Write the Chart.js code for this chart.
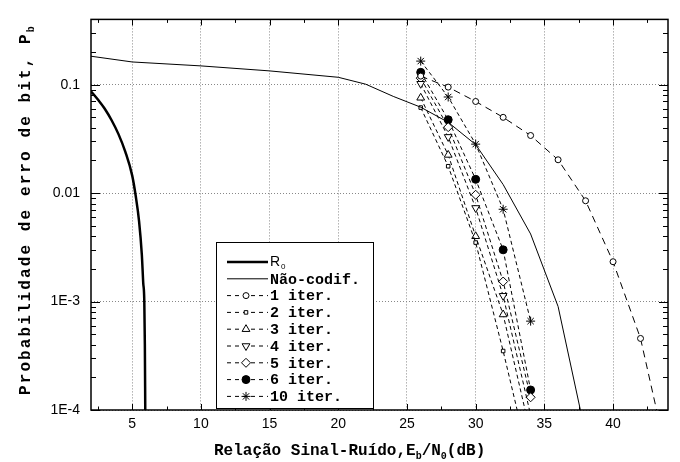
<!DOCTYPE html>
<html>
<head>
<meta charset="utf-8">
<script src="https://cdn.jsdelivr.net/npm/chart.js@4.4.1/dist/chart.umd.min.js"></script>
<style>
body { margin: 0; background: #fff; }
</style>
</head>
<body>
<canvas id="berChart" width="680" height="462"></canvas>
<script>
// axis ticks
const xTicks = [5, 10, 15, 20, 25, 30, 35, 40];
const yTicks = [1e-4, 1e-3, 0.01, 0.1];
const yTickLabels = ['1E-4', '1E-3', '0.01', '0.1'];

// R0 bound
const r0Snr = [2, 2.5, 3, 3.5, 4, 4.5, 5, 5.25, 5.5, 5.7, 5.8, 5.88, 5.92, 5.95];
const r0Pb = [0.087, 0.073, 0.06, 0.047, 0.035, 0.024, 0.0145, 0.0095, 0.0055, 0.0027, 0.0015, 0.001, 0.0004, 0.0001];

// uncoded
const uncSnr = [2, 5, 10, 15, 20, 22, 24, 26, 28, 30, 32, 34, 36, 38];
const uncPb = [0.183, 0.162, 0.149, 0.134, 0.117, 0.101, 0.078, 0.062, 0.045, 0.028, 0.012, 0.0042, 0.0009, 0.00006];

// turbo decoder iterations
const iter1Snr = [26, 28, 30, 32, 34, 36, 38, 40, 42, 44];
const iter1Pb = [0.12, 0.095, 0.07, 0.05, 0.034, 0.0203, 0.0085, 0.00233, 0.000457, 0.000034];
const iterSnr = [26, 28, 30, 32, 34];
const iter2Pb = [0.0615, 0.0177, 0.0035, 0.00035, 0.00003];
const iter3Pb = [0.0757, 0.0225, 0.004, 0.00076, 0.00006];
const iter4Pb = [0.102, 0.033, 0.0073, 0.00113, 0.00009];
const iter5Pb = [0.115, 0.0406, 0.00966, 0.00153, 0.000131];
const iter6Pb = [0.13, 0.0475, 0.0134, 0.003, 0.000153];
const iter10Pb = [0.165, 0.077, 0.0283, 0.0071, 0.00066];

const seriesLabels = ['R0', 'Não-codif.', '1 iter.', '2 iter.', '3 iter.', '4 iter.', '5 iter.', '6 iter.', '10 iter.'];

function points(xs, ys) {
    return xs.map((x, i) => ({ x: x, y: ys[i] }));
}

function iterSeries(label, xs, ys, style, radius, filled, rotation, dash) {
    return {
        label: label,
        data: points(xs, ys),
        borderColor: '#000',
        borderWidth: 1,
        borderDash: dash || [4, 3],
        pointStyle: style,
        pointRadius: radius,
        pointRotation: rotation || 0,
        pointBackgroundColor: filled ? '#000' : '#fff',
        pointBorderColor: '#000',
        pointBorderWidth: 1
    };
}

const datasets = [
    { label: seriesLabels[0], data: points(r0Snr, r0Pb), borderColor: '#000', borderWidth: 2.5, pointRadius: 0, cubicInterpolationMode: 'monotone' },
    { label: seriesLabels[1], data: points(uncSnr, uncPb), borderColor: '#000', borderWidth: 1, pointRadius: 0 },
    iterSeries(seriesLabels[2], iter1Snr, iter1Pb, 'circle', 3, false, 0, [7, 5]),
    iterSeries(seriesLabels[3], iterSnr, iter2Pb, 'rect', 2.5, false),
    iterSeries(seriesLabels[4], iterSnr, iter3Pb, 'triangle', 4.5, false),
    iterSeries(seriesLabels[5], iterSnr, iter4Pb, 'triangle', 4.5, false, 180),
    iterSeries(seriesLabels[6], iterSnr, iter5Pb, 'rectRot', 4.5, false),
    iterSeries(seriesLabels[7], iterSnr, iter6Pb, 'circle', 4, true),
    iterSeries(seriesLabels[8], iterSnr, iter10Pb, 'star', 4.5, false)
];

const monoFont = '"Liberation Mono", "DejaVu Sans Mono", monospace';
const sansFont = '"Liberation Sans", Arial, sans-serif';

// draw text pieces, some as subscripts
function drawRuns(ctx, runs, x, y, size) {
    for (const r of runs) {
        ctx.font = r.sub ? 'bold ' + Math.round(size * 0.6) + 'px ' + monoFont : 'bold ' + size + 'px ' + monoFont;
        ctx.fillText(r.t, x, y + (r.sub ? 4 : 0));
        x += ctx.measureText(r.t).width;
    }
}

const framePlugin = {
    id: 'frame',
    afterDatasetsDraw(chart) {
        const ctx = chart.ctx;
        const a = chart.chartArea;
        const xs = chart.scales.x;
        const ys = chart.scales.y;
        ctx.save();
        ctx.strokeStyle = '#000';
        ctx.fillStyle = '#000';
        ctx.setLineDash([]);

        // inward ticks, x
        ctx.lineWidth = 1;
        for (let v = 2.5; v < 44; v += 2.5) {
            const px = Math.round(xs.getPixelForValue(v)) + 0.5;
            const len = (v % 5 === 0) ? 6 : 3.5;
            ctx.beginPath();
            ctx.moveTo(px, a.bottom); ctx.lineTo(px, a.bottom - len);
            ctx.moveTo(px, a.top); ctx.lineTo(px, a.top + len);
            ctx.stroke();
        }
        // inward ticks, y
        for (let e = -4; e <= -1; e++) {
            for (let m = 1; m <= 9; m++) {
                const v = m * Math.pow(10, e);
                if (v > 0.4 + 1e-9) continue;
                const py = Math.round(ys.getPixelForValue(v)) + 0.5;
                const len = m === 1 ? 9 : 5;
                ctx.beginPath();
                ctx.moveTo(a.left, py); ctx.lineTo(a.left + len, py);
                ctx.moveTo(a.right, py); ctx.lineTo(a.right - len, py);
                ctx.stroke();
            }
        }
        // frame
        ctx.lineWidth = 1.5;
        ctx.strokeRect(a.left, a.top, a.right - a.left, a.bottom - a.top);

        // legend
        const lx = 216, ly = 242, lw = 157, lh = 166;
        ctx.fillStyle = '#fff';
        ctx.fillRect(lx, ly, lw, lh);
        ctx.lineWidth = 1;
        ctx.strokeRect(lx + 0.5, ly + 0.5, lw, lh);
        ctx.fillStyle = '#000';
        ctx.textBaseline = 'middle';
        chart.data.datasets.forEach((ds, i) => {
            const ry = 262 + i * 16.8;
            ctx.save();
            ctx.strokeStyle = '#000';
            ctx.lineWidth = ds.borderWidth;
            ctx.setLineDash(i < 2 ? [] : [4, 4]);
            ctx.beginPath();
            ctx.moveTo(227, ry); ctx.lineTo(268, ry);
            ctx.stroke();
            ctx.setLineDash([]);
            if (ds.pointRadius > 0) {
                ctx.fillStyle = ds.pointBackgroundColor;
                ctx.lineWidth = 1;
                Chart.helpers.drawPoint(ctx, {
                    pointStyle: ds.pointStyle,
                    radius: ds.pointRadius,
                    rotation: ds.pointRotation,
                    borderWidth: 1
                }, 246, ry);
            }
            ctx.restore();
            ctx.fillStyle = '#000';
            if (i === 0) {
                ctx.font = '14px ' + sansFont;
                ctx.fillText('R', 270, ry);
                const w = ctx.measureText('R').width;
                ctx.font = '8px ' + sansFont;
                ctx.fillText('0', 270 + w + 1, ry + 5);
            } else {
                ctx.font = 'bold 15px ' + monoFont;
                ctx.fillText(ds.label, 270, ry + 1);
            }
        });

        // axis titles
        ctx.textBaseline = 'alphabetic';
        drawRuns(ctx, [
            { t: 'Relação Sinal-Ruído,E' }, { t: 'b', sub: true }, { t: '/N' }, { t: '0', sub: true }, { t: '(dB)' }
        ], 214, 455, 16);

        ctx.translate(30, 395);
        ctx.rotate(-Math.PI / 2);
        ctx.letterSpacing = '2.1px';
        drawRuns(ctx, [
            { t: 'Probabilidade de erro de bit, P' }, { t: 'b', sub: true }
        ], 0, 0, 16);
        ctx.restore();
    }
};

new Chart(document.getElementById('berChart').getContext('2d'), {
    type: 'line',
    data: { datasets: datasets },
    options: {
        responsive: false,
        animation: false,
        layout: { padding: { top: 12, right: 12, left: 0, bottom: 0 } },
        plugins: { legend: { display: false }, tooltip: { enabled: false } },
        scales: {
            x: {
                type: 'linear',
                min: 2,
                max: 44,
                afterBuildTicks: s => { s.ticks = xTicks.map(v => ({ value: v })); },
                afterFit: s => { s.height = 52; },
                grid: { color: '#888', lineWidth: 1, drawTicks: false },
                border: { display: false, dash: [1, 2] },
                ticks: { color: '#000', font: { family: sansFont, size: 14 }, padding: 6, maxRotation: 0, autoSkip: false }
            },
            y: {
                type: 'logarithmic',
                min: 1e-4,
                max: 0.4,
                afterBuildTicks: s => { s.ticks = yTicks.map(v => ({ value: v })); },
                afterFit: s => { s.width = 91; },
                grid: { color: '#888', lineWidth: 1, drawTicks: false },
                border: { display: false, dash: [1, 2] },
                ticks: {
                    color: '#000',
                    font: { family: sansFont, size: 14 },
                    padding: 11,
                    autoSkip: false,
                    callback: (v, i) => yTickLabels[i]
                }
            }
        }
    },
    plugins: [framePlugin]
});
</script>
</body>
</html>
